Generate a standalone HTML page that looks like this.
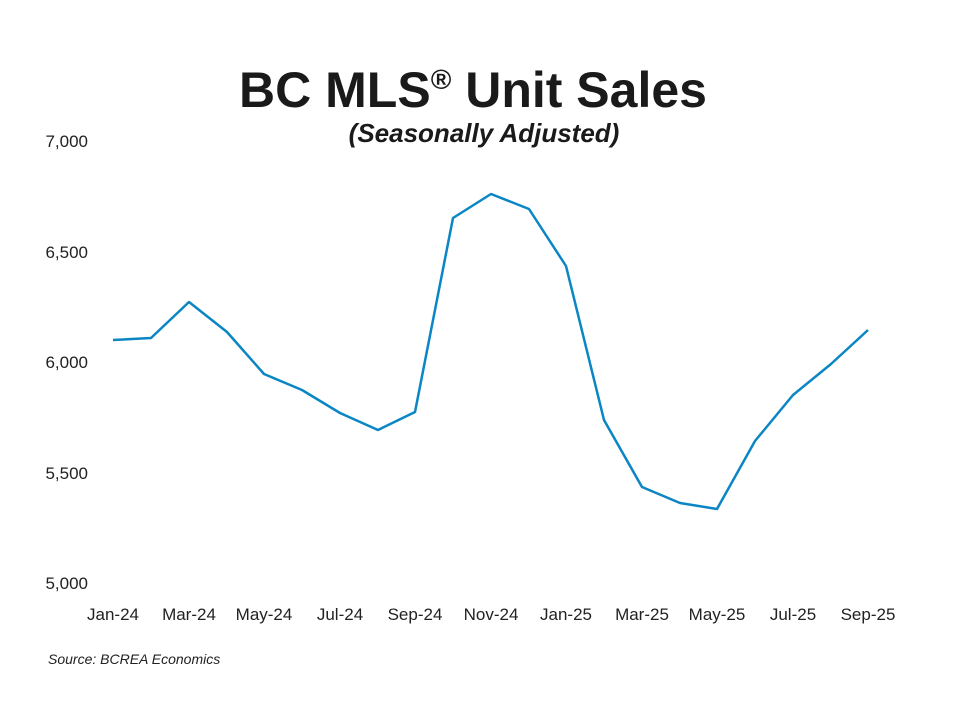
<!DOCTYPE html>
<html><head><meta charset="utf-8"><style>
body{margin:0;background:#fff;}
svg{display:block;font-family:"Liberation Sans",sans-serif;}
</style></head><body>
<svg width="960" height="720" viewBox="0 0 960 720">
<text x="473" y="107" text-anchor="middle" font-size="50" font-weight="bold" fill="#1a1a1a">BC MLS<tspan font-size="28" dy="-18">®</tspan><tspan dy="18"> Unit Sales</tspan></text>
<text x="484" y="142" text-anchor="middle" font-size="26" font-weight="bold" font-style="italic" fill="#1a1a1a">(Seasonally Adjusted)</text>
<g font-size="17" fill="#222" text-anchor="end">
<text x="88" y="147">7,000</text>
<text x="88" y="258">6,500</text>
<text x="88" y="368">6,000</text>
<text x="88" y="479">5,500</text>
<text x="88" y="589">5,000</text>
</g>
<g font-size="17" fill="#222" text-anchor="middle">
<text x="113" y="620">Jan-24</text>
<text x="189" y="620">Mar-24</text>
<text x="264" y="620">May-24</text>
<text x="340" y="620">Jul-24</text>
<text x="415" y="620">Sep-24</text>
<text x="491" y="620">Nov-24</text>
<text x="566" y="620">Jan-25</text>
<text x="642" y="620">Mar-25</text>
<text x="717" y="620">May-25</text>
<text x="793" y="620">Jul-25</text>
<text x="868" y="620">Sep-25</text>
</g>
<polyline fill="none" stroke="#0a86c4" stroke-width="2.5" stroke-linejoin="round" points="113,340 151,338 189,302 227,332 264,374 302,390 340,413 378,430 415,412 453,218 491,194 529,209 566,266 604,420 642,487 680,503 717,509 755,441 793,395 831,364 868,330"/>
<text x="48" y="664" font-size="14" font-style="italic" fill="#222">Source: BCREA Economics</text>
</svg>
</body></html>
